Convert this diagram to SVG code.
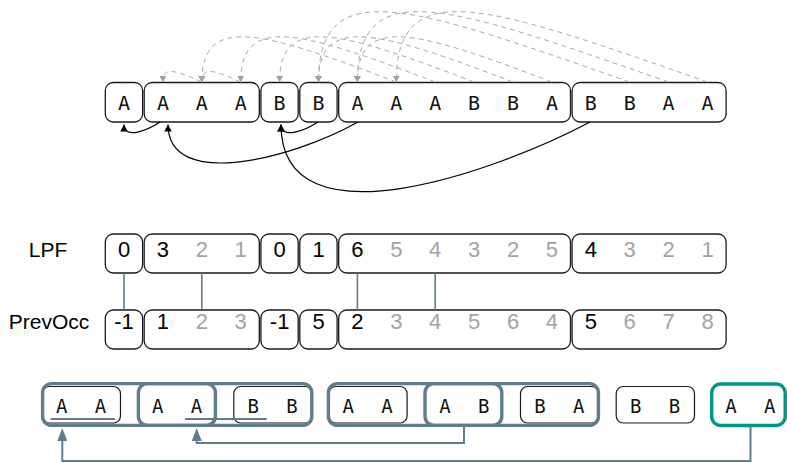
<svg xmlns="http://www.w3.org/2000/svg" width="787" height="463" viewBox="0 0 787 463">
<style>
.box{fill:#fff;stroke:#1a1a1a;stroke-width:1.3}
.tbox{fill:none;stroke:#1a1a1a;stroke-width:1.2}
.thick{fill:none;stroke:#607d8b;stroke-width:3.4}
.teal{fill:none;stroke:#009688;stroke-width:3.4}
.ch{font-family:"DejaVu Sans Mono",monospace;font-size:20px;text-anchor:middle;fill:#111}
.bch{font-family:"DejaVu Sans Mono",monospace;font-size:19px;text-anchor:middle;fill:#111}
.num{font-family:"Liberation Sans",Arial,sans-serif;font-size:22px;text-anchor:middle}
.k{fill:#000}
.g{fill:#a3a3a3}
.lbl{font-family:"Liberation Sans",Arial,sans-serif;font-size:21px;text-anchor:middle;fill:#000}
.dash{fill:none;stroke:#aaaaaa;stroke-width:1;stroke-dasharray:5 4;marker-end:url(#ag)}
.blk{fill:none;stroke:#000;stroke-width:1.2;marker-end:url(#ab)}
.vl{stroke:#607d8b;stroke-width:1.6}
.sl{fill:none;stroke:#607d8b;stroke-width:2;marker-end:url(#as)}
.ul{stroke:#607d8b;stroke-width:2}
</style>
<defs>
<marker id="ab" markerUnits="userSpaceOnUse" markerWidth="7" markerHeight="7.5" viewBox="0 0 7 7.5" refX="7" refY="3.75" orient="auto"><path d="M0,0 L7,3.75 L0,7.5 z" fill="#000"/></marker>
<marker id="ag" markerUnits="userSpaceOnUse" markerWidth="6" markerHeight="7" viewBox="0 0 6 7" refX="6" refY="3.5" orient="auto"><path d="M0,0 L6,3.5 L0,7 z" fill="#a0a0a0"/></marker>
<marker id="as" markerUnits="userSpaceOnUse" markerWidth="13" markerHeight="10" viewBox="0 -5 13 10" refX="0" refY="0" orient="auto"><path d="M0,-5 L13,0 L0,5 z" fill="#607d8b"/></marker>
</defs>

<!-- top row factors -->
<g id="top-f0"><rect class="box" x="105.3" y="82.5" width="37.3" height="39.5" rx="8"/><text class="ch" x="124" y="109.5">A</text></g>
<g id="top-f1"><rect class="box" x="144.2" y="82.5" width="115.1" height="39.5" rx="8"/><text class="ch" x="162.9" y="109.5">A</text><text class="ch" x="201.8" y="109.5">A</text><text class="ch" x="240.7" y="109.5">A</text></g>
<g id="top-f2"><rect class="box" x="260.9" y="82.5" width="37.3" height="39.5" rx="8"/><text class="ch" x="279.6" y="109.5">B</text></g>
<g id="top-f3"><rect class="box" x="299.8" y="82.5" width="37.3" height="39.5" rx="8"/><text class="ch" x="318.5" y="109.5">B</text></g>
<g id="top-f4"><rect class="box" x="338.7" y="82.5" width="231.8" height="39.5" rx="8"/><text class="ch" x="357.4" y="109.5">A</text><text class="ch" x="396.3" y="109.5">A</text><text class="ch" x="435.2" y="109.5">A</text><text class="ch" x="474.1" y="109.5">B</text><text class="ch" x="513" y="109.5">B</text><text class="ch" x="551.9" y="109.5">A</text></g>
<g id="top-f5"><rect class="box" x="572.1" y="82.5" width="154" height="39.5" rx="8"/><text class="ch" x="590.8" y="109.5">B</text><text class="ch" x="629.7" y="109.5">B</text><text class="ch" x="668.6" y="109.5">A</text><text class="ch" x="707.5" y="109.5">A</text></g>

<!-- LPF row -->
<g id="lpf-label"><text class="lbl" x="48" y="256.7">LPF</text></g>
<g id="lpf-f0"><rect class="box" x="105.3" y="234" width="37.3" height="39" rx="8"/><text class="num k" x="124" y="257.3">0</text></g>
<g id="lpf-f1"><rect class="box" x="144.2" y="234" width="115.1" height="39" rx="8"/><text class="num k" x="162.9" y="257.3">3</text><text class="num g" x="201.8" y="257.3">2</text><text class="num g" x="240.7" y="257.3">1</text></g>
<g id="lpf-f2"><rect class="box" x="260.9" y="234" width="37.3" height="39" rx="8"/><text class="num k" x="279.6" y="257.3">0</text></g>
<g id="lpf-f3"><rect class="box" x="299.8" y="234" width="37.3" height="39" rx="8"/><text class="num k" x="318.5" y="257.3">1</text></g>
<g id="lpf-f4"><rect class="box" x="338.7" y="234" width="231.8" height="39" rx="8"/><text class="num k" x="357.4" y="257.3">6</text><text class="num g" x="396.3" y="257.3">5</text><text class="num g" x="435.2" y="257.3">4</text><text class="num g" x="474.1" y="257.3">3</text><text class="num g" x="513" y="257.3">2</text><text class="num g" x="551.9" y="257.3">5</text></g>
<g id="lpf-f5"><rect class="box" x="572.1" y="234" width="154" height="39" rx="8"/><text class="num k" x="590.8" y="257.3">4</text><text class="num g" x="629.7" y="257.3">3</text><text class="num g" x="668.6" y="257.3">2</text><text class="num g" x="707.5" y="257.3">1</text></g>

<!-- PrevOcc row -->
<g id="prev-label"><text class="lbl" x="49" y="329">PrevOcc</text></g>
<g id="prev-f0"><rect class="box" x="105.3" y="310" width="37.3" height="39" rx="8"/><text class="num k" x="124" y="329">-1</text></g>
<g id="prev-f1"><rect class="box" x="144.2" y="310" width="115.1" height="39" rx="8"/><text class="num k" x="162.9" y="329">1</text><text class="num g" x="201.8" y="329">2</text><text class="num g" x="240.7" y="329">3</text></g>
<g id="prev-f2"><rect class="box" x="260.9" y="310" width="37.3" height="39" rx="8"/><text class="num k" x="279.6" y="329">-1</text></g>
<g id="prev-f3"><rect class="box" x="299.8" y="310" width="37.3" height="39" rx="8"/><text class="num k" x="318.5" y="329">5</text></g>
<g id="prev-f4"><rect class="box" x="338.7" y="310" width="231.8" height="39" rx="8"/><text class="num k" x="357.4" y="329">2</text><text class="num g" x="396.3" y="329">3</text><text class="num g" x="435.2" y="329">4</text><text class="num g" x="474.1" y="329">5</text><text class="num g" x="513" y="329">6</text><text class="num g" x="551.9" y="329">4</text></g>
<g id="prev-f5"><rect class="box" x="572.1" y="310" width="154" height="39" rx="8"/><text class="num k" x="590.8" y="329">5</text><text class="num g" x="629.7" y="329">6</text><text class="num g" x="668.6" y="329">7</text><text class="num g" x="707.5" y="329">8</text></g>

<!-- bottom row pairs -->
<g id="pair0"><rect class="tbox" x="42.2" y="386.5" width="78.3" height="36.5" rx="7"/><text class="bch" x="61.7" y="412.5">A</text><text class="bch" x="100.5" y="412.5">A</text></g>
<g id="pair1"><text class="bch" x="157.7" y="412.5">A</text><text class="bch" x="196.5" y="412.5">A</text></g>
<g id="pair2"><rect class="tbox" x="233.8" y="386.5" width="78.3" height="36.5" rx="7"/><text class="bch" x="253.3" y="412.5">B</text><text class="bch" x="292.1" y="412.5">B</text></g>
<g id="pair3"><rect class="tbox" x="328.8" y="386.5" width="78.3" height="36.5" rx="7"/><text class="bch" x="348.3" y="412.5">A</text><text class="bch" x="387.1" y="412.5">A</text></g>
<g id="pair4"><text class="bch" x="445" y="412.5">A</text><text class="bch" x="483.8" y="412.5">B</text></g>
<g id="pair5"><rect class="tbox" x="520.5" y="386.5" width="78.3" height="36.5" rx="7"/><text class="bch" x="540" y="412.5">B</text><text class="bch" x="578.8" y="412.5">A</text></g>
<g id="pair6"><rect class="tbox" x="616.2" y="386.5" width="78.3" height="36.5" rx="7"/><text class="bch" x="635.7" y="412.5">B</text><text class="bch" x="674.5" y="412.5">B</text></g>
<g id="pair7"><rect class="teal" x="711.7" y="384" width="73.5" height="41.5" rx="9"/><text class="bch" x="731" y="412.5">A</text><text class="bch" x="769.8" y="412.5">A</text></g>
<g id="underlines"><line class="ul" x1="50.7" y1="419" x2="115" y2="419"/><line class="ul" x1="185" y1="419" x2="266.7" y2="419"/></g>
<g id="group1"><rect class="thick" x="42.6" y="383.6" width="269.2" height="41.8" rx="9"/></g>
<g id="group1-inner"><rect class="thick" x="138.4" y="383.6" width="77" height="41.8" rx="9"/></g>
<g id="group2"><rect class="thick" x="328.4" y="383.6" width="270" height="41.8" rx="9"/></g>
<g id="group2-inner"><rect class="thick" x="425" y="383.6" width="76.8" height="41.8" rx="9"/></g>

<!-- connectors -->
<g id="connectors">
<path class="dash" d="M201.8,82 C174.6,70 162.9,66 162.9,82"/>
<path class="dash" d="M240.7,82 C213.5,70 201.8,66 201.8,82"/>
<path class="dash" d="M396.3,82 C260.1,30 201.8,14 201.8,82"/>
<path class="dash" d="M435.2,82 C299,30 240.7,14 240.7,82"/>
<path class="dash" d="M474.1,82 C337.9,30 279.6,14 279.6,82"/>
<path class="dash" d="M513,82 C376.8,30 318.5,14 318.5,82"/>
<path class="dash" d="M551.9,82 C415.7,30 357.4,14 357.4,82"/>
<path class="dash" d="M629.7,82 C411.9,6 318.5,-28 318.5,82"/>
<path class="dash" d="M668.6,82 C450.8,6 357.4,-28 357.4,82"/>
<path class="dash" d="M707.5,82 C489.7,6 396.3,-28 396.3,82"/>
<path class="blk" d="M160,122 C148,130 124,140 124,124.5"/>
<path class="blk" d="M358,122 C290,160 168,190 168,124.5"/>
<path class="blk" d="M318,122 C306,130 281,140 281,124.5"/>
<path class="blk" d="M590,122 C500,170 281,250 281,124.5"/>
<line class="vl" x1="124" y1="273" x2="124" y2="310"/>
<line class="vl" x1="201.8" y1="273" x2="201.8" y2="310"/>
<line class="vl" x1="357.4" y1="273" x2="357.4" y2="310"/>
<line class="vl" x1="435.2" y1="273" x2="435.2" y2="310"/>
<path class="sl" d="M750.5,425.5 V461 H62.3 V441"/>
<path class="sl" d="M464,425.5 V443 H196.7 V441"/>
</g>
</svg>
